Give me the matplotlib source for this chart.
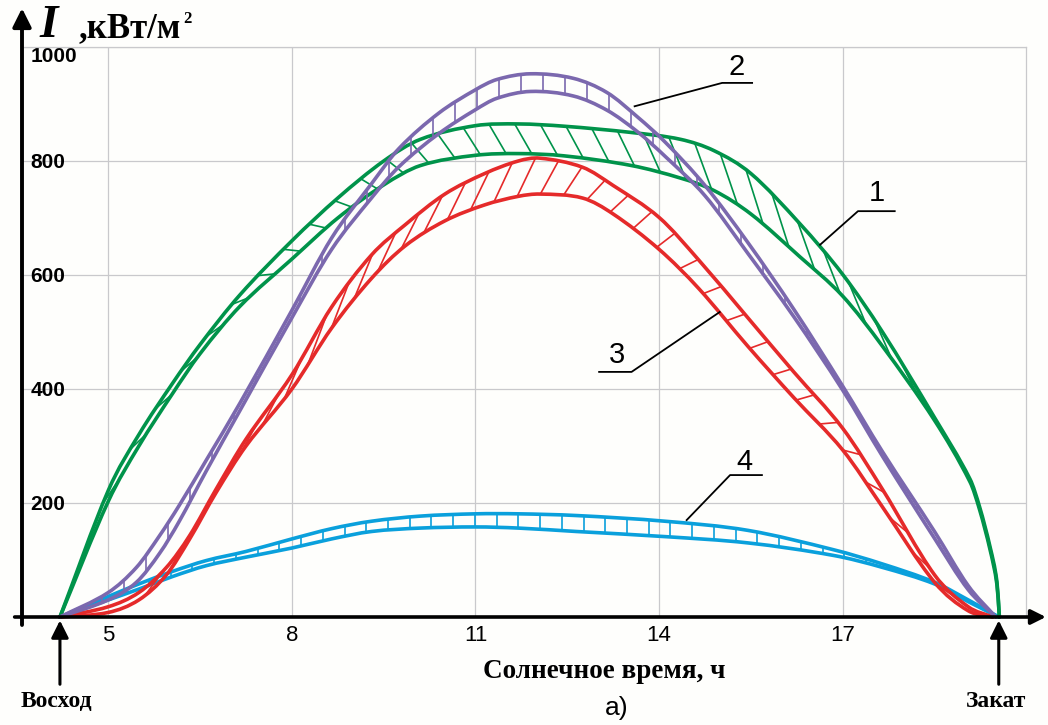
import matplotlib.pyplot as plt
from matplotlib.collections import LineCollection
from matplotlib.patches import PathPatch
from matplotlib.path import Path
import numpy as np

plt.rcParams['font.family'] = 'Liberation Sans'

# ---- data (solar time, h ; irradiance I) ----
green_x = [4.21, 5.0, 5.5, 6.05, 6.5, 7.15, 8.0, 8.75, 9.5, 10.1, 11.0, 11.7, 12.45,
           13.55, 14.35, 14.9, 15.5, 16.3, 17.0, 17.65, 18.5, 19.08, 19.24, 19.41,
           19.52, 19.56]
green_up = [0, 222, 320, 410, 478, 565, 660, 735, 800, 838, 862, 865, 861,
            850, 838, 818, 778, 690, 601, 500, 350, 242, 192, 122, 62, 0]
green_lo = [0, 203, 300, 392, 462, 545, 628, 700, 758, 792, 810, 813, 809,
            792, 770, 748, 707, 632, 563, 475, 345, 237, 187, 117, 57, 0]

purple_x = [4.21, 5.0, 5.46, 5.84, 6.16, 6.6, 7.15, 8.0, 8.65, 9.3, 9.75, 10.4, 11.0,
            11.35, 11.9, 12.6, 13.15, 13.65, 14.1, 14.75, 15.45, 16.2, 17.0, 17.65,
            18.5, 19.05, 19.5]
purple_up = [0, 43, 87, 143, 196, 275, 375, 538, 665, 760, 822, 884, 925,
             943, 953, 945, 920, 877, 833, 757, 657, 540, 405, 290, 150, 55, 0]
purple_lo = [0, 30, 61, 112, 168, 256, 362, 525, 645, 735, 790, 848, 890,
             910, 922, 914, 889, 851, 808, 739, 638, 527, 398, 282, 138, 48, 0]

red_x = [4.21, 5.0, 5.5, 5.95, 6.33, 6.76, 7.25, 8.0, 8.65, 9.3, 9.85, 10.5, 11.15,
         11.7, 12.05, 12.75, 13.25, 14.0, 14.65, 15.45, 16.2, 17.0, 17.65,
         18.5, 19.05, 19.45]
red_up = [0, 18, 43, 87, 143, 224, 312, 425, 544, 635, 688, 742, 778,
          800, 805, 789, 757, 701, 626, 525, 430, 331, 224, 74, 18, 0]
red_lo = [0, 8, 30, 74, 137, 218, 300, 400, 507, 594, 651, 695, 723,
          738, 742, 735, 707, 645, 576, 475, 385, 293, 193, 61, 11, 0]

blue_x = [4.21, 5.0, 5.5, 6.05, 6.6, 7.25, 8.0, 8.65, 9.3, 10.1, 11.0, 11.7, 12.65,
          14.1, 15.45, 16.85, 17.65, 18.5, 19.05, 19.55]
blue_up = [0, 36, 58, 80, 99, 115, 137, 155, 168, 177, 181, 181, 178,
           168, 152, 118, 93, 61, 30, 0]
blue_lo = [0, 30, 49, 71, 90, 105, 121, 137, 150, 156, 158, 156, 150,
           141, 130, 108, 87, 58, 27, 0]

x_ticks = [5, 8, 11, 14, 17]
y_ticks = [200, 400, 600, 800, 1000]

GREEN = '#00934a'
PURPLE = '#7b68ae'
RED = '#e52a2a'
BLUE = '#0aa0dc'

fig = plt.figure(figsize=(10.48, 7.25), dpi=100)
fig.patch.set_facecolor('#fefefc')
ax = fig.add_axes([22 / 1048, 108 / 725, 1004.3 / 1048, 570 / 725])
ax.set_facecolor('#fefefc')
ax.set_xlim(3.59, 20.0)
ax.set_ylim(0, 1000)

# grid / frame
ax.set_xticks(x_ticks)
ax.set_yticks(y_ticks)
ax.grid(color='#c9c9cc', lw=0.9)
for s in ['left', 'bottom']:
    ax.spines[s].set_visible(False)
for s in ['top', 'right']:
    ax.spines[s].set_color('#c9c9cc')
    ax.spines[s].set_linewidth(0.9)
ax.tick_params(axis='both', length=0)
ax.tick_params(axis='x', pad=6, labelsize=16)
ax.tick_params(axis='y', pad=-6, labelsize=15)
for lab in ax.get_yticklabels():
    lab.set_horizontalalignment('left')
    lab.set_fontweight('bold')
ax.get_yticklabels()[-1].set_verticalalignment('top')


def smooth_path(x, y):
    # smooth curve through the read points (cubic Bezier segments, like a drawing program)
    x = np.asarray(x, float)
    y = np.asarray(y, float)
    m = np.empty(len(x))
    m[0] = (y[1] - y[0]) / (x[1] - x[0])
    m[-1] = (y[-1] - y[-2]) / (x[-1] - x[-2])
    m[1:-1] = (y[2:] - y[:-2]) / (x[2:] - x[:-2])
    verts = [(x[0], y[0])]
    codes = [Path.MOVETO]
    for i in range(len(x) - 1):
        h = x[i + 1] - x[i]
        verts += [(x[i] + h / 3, y[i] + m[i] * h / 3),
                  (x[i + 1] - h / 3, y[i + 1] - m[i + 1] * h / 3),
                  (x[i + 1], y[i + 1])]
        codes += [Path.CURVE4] * 3
    return Path(verts, codes)


def band(x, up, lo, color, hatch, step, d, x0, x1, z):
    curves = []
    for vals in (up, lo):
        p = smooth_path(x, vals)
        ax.add_patch(PathPatch(p, fill=False, edgecolor=color, lw=2.6, clip_on=False,
                               zorder=z, capstyle='round', joinstyle='round'))
        curves.append(p.to_polygons(closed_only=False)[0])
    U, L = curves

    def fu(h):
        return np.interp(h, U[:, 0], U[:, 1])

    def fl(h):
        return np.interp(h, L[:, 0], L[:, 1])

    hx = np.arange(x0, x1, step)
    if hatch == 'v':
        segs = [[(h, fl(h)), (h, fu(h))] for h in hx]
    elif hatch == 'back':
        segs = [[(h, fu(h)), (h + d, fl(h + d))] for h in hx]
    else:
        segs = [[(h, fl(h)), (h + d, fu(h + d))] for h in hx]
    ax.add_collection(LineCollection(segs, colors=color, linewidths=1.2, zorder=z))


band(blue_x, blue_up, blue_lo, BLUE, 'v', 0.355, 0, 4.6, 19.2, 3)
band(red_x, red_up, red_lo, RED, 'fwd', 0.38, 0.3, 5.6, 18.6, 4)
band(green_x, green_up, green_lo, GREEN, 'back', 0.42, 0.28, 4.5, 18.6, 5)
band(purple_x, purple_up, purple_lo, PURPLE, 'v', 0.36, 0, 4.9, 19.2, 6)

# axes with arrows
ax.annotate('', xy=(3.59, 1068), xytext=(3.59, -14), annotation_clip=False,
            arrowprops=dict(arrowstyle='-|>', lw=2.8, color='black', mutation_scale=28,
                            shrinkA=0, shrinkB=0), zorder=10)
ax.annotate('', xy=(20.32, 0), xytext=(3.47, 0), annotation_clip=False,
            arrowprops=dict(arrowstyle='-|>', lw=2.6, color='black', mutation_scale=22,
                            shrinkA=0, shrinkB=0), zorder=10)

# sunrise / sunset
for xs, name in [(4.21, 'Восход'), (19.55, 'Закат')]:
    ax.annotate('', xy=(xs, -6), xytext=(xs, -118), annotation_clip=False,
                arrowprops=dict(arrowstyle='-|>', lw=2.2, color='black', mutation_scale=26,
                                shrinkA=0, shrinkB=0), zorder=10)
    ax.text(xs - 0.05, -149, name, ha='center', va='center', family='Liberation Serif',
            fontweight='bold', fontsize=17, clip_on=False)

# axis titles
ax.text(3.88, 1017, 'I', family='Liberation Serif', fontstyle='italic', fontweight='bold',
        fontsize=34, ha='left', va='baseline', clip_on=False)
unit = ax.text(4.51, 1017, ',кВт/м', family='Liberation Serif', fontweight='bold',
               fontsize=25, ha='left', va='baseline', clip_on=False)
ax.annotate('2', xy=(1.0, 0.55), xycoords=unit, xytext=(2, 0), textcoords='offset points',
            family='Liberation Serif', fontweight='bold', fontsize=12,
            ha='left', va='bottom', annotation_clip=False)
ax.text(13.11, -96, 'Солнечное время, ч', family='Liberation Serif', fontweight='bold',
        fontsize=19.5, ha='center', va='center', clip_on=False)
ax.text(13.31, -160, 'а)', fontsize=19, ha='center', va='center', clip_on=False)

# curve callouts: label, text pos, underline span, leader end
callouts = [('1', 17.55, 744, 17.25, 17.85, 712, 16.63, 653),
            ('2', 15.27, 965, 15.03, 15.52, 937, 13.60, 896),
            ('3', 13.31, 460, 13.02, 13.55, 430, 14.99, 535),
            ('4', 15.40, 272, 15.16, 15.68, 249, 14.45, 170)]
for lab, tx, ty, ua, ub, uy, lx, ly in callouts:
    ax.text(tx, ty, lab, fontsize=21, ha='center', va='center', zorder=11)
    if lab == '3':
        ax.plot([ua, ub, lx], [uy, uy, ly], color='black', lw=1.3, zorder=11)
    else:
        ax.plot([ub, ua, lx], [uy, uy, ly], color='black', lw=1.3, zorder=11)

fig.savefig('out.png', dpi=100, facecolor=fig.get_facecolor())
